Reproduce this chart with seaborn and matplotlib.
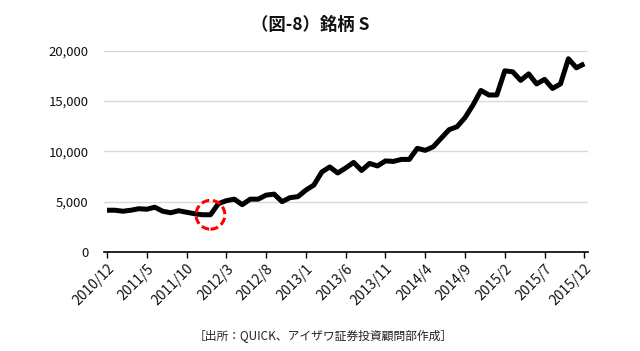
import numpy as np
import pandas as pd
import matplotlib
matplotlib.use("Agg")
import matplotlib.pyplot as plt
import seaborn as sns

# monthly close, 2010/12 .. 2015/12
price = [4150, 4150, 4050, 4150, 4300, 4250, 4450, 4050, 3900, 4100,
         3950, 3800, 3700, 3700, 4800, 5100, 5250, 4700, 5250, 5250,
         5650, 5750, 5000, 5400, 5500, 6150, 6650, 7950, 8450, 7850,
         8350, 8900, 8100, 8800, 8550, 9050, 9000, 9200, 9200, 10300,
         10100, 10450, 11300, 12150, 12450, 13350, 14600, 16050, 15600, 15600,
         18000, 17900, 17050, 17700, 16700, 17150, 16250, 16700, 19200, 18300,
         18700]
tick_pos = list(range(0, 61, 5))
tick_labels = ["2010/12", "2011/5", "2011/10", "2012/3", "2012/8", "2013/1", "2013/6",
               "2013/11", "2014/4", "2014/9", "2015/2", "2015/7", "2015/12"]
y_ticks = [0, 5000, 10000, 15000, 20000]
highlight_idx = 13

df = pd.DataFrame({"m": np.arange(len(price)), "price": price})

sns.set_theme(style="white")
plt.rcParams['font.family'] = ['Noto Sans CJK JP', 'DejaVu Sans']

fig = plt.figure(figsize=(6.4, 3.51), dpi=100)
ax = fig.add_axes([104/640, 1-252/351, 484/640, (252-50.7)/351])

sns.lineplot(data=df, x="m", y="price", ax=ax, color="black", linewidth=3.6,
             solid_joinstyle="round", solid_capstyle="butt")

# red dashed circle around the low point
ax.scatter([highlight_idx], [price[highlight_idx]], s=430, facecolors="none",
           edgecolors="#ff0000", linewidths=2.2, linestyles=(0, (2.6, 1.2)), zorder=5)

ax.set_xlim(-0.38, 60.46)
ax.set_ylim(0, 20000)
ax.set_yticks(y_ticks)
ax.set_yticklabels([f"{v:,}" for v in y_ticks], fontsize=9.5, color="#111111")
ax.set_xticks(tick_pos)
ax.set_xticklabels(tick_labels, fontsize=10, color="#111111", rotation=45,
                   ha="right", rotation_mode="anchor")
ax.yaxis.grid(True, color="#d9d9d9", linewidth=1)
ax.set_axisbelow(True)
for s in ["top", "right", "left"]:
    ax.spines[s].set_visible(False)
ax.spines["bottom"].set_color("black")
ax.spines["bottom"].set_linewidth(1.2)
ax.tick_params(axis="x", bottom=True, length=4, width=1, color="black", pad=3)
ax.tick_params(axis="y", left=False, length=0, pad=11)
ax.set_xlabel("")
ax.set_ylabel("")

fig.text(310/640, 1-25/351, "（図-8）銘柄 S", ha="center", va="center",
         fontsize=12.5, fontweight="bold", color="#111111")
fig.text(323/640, 1-336/351, "［出所：QUICK、アイザワ証券投資顧問部作成］", ha="center",
         va="center", fontsize=8.5, color="#222222")

fig.savefig("out.png", dpi=100)
